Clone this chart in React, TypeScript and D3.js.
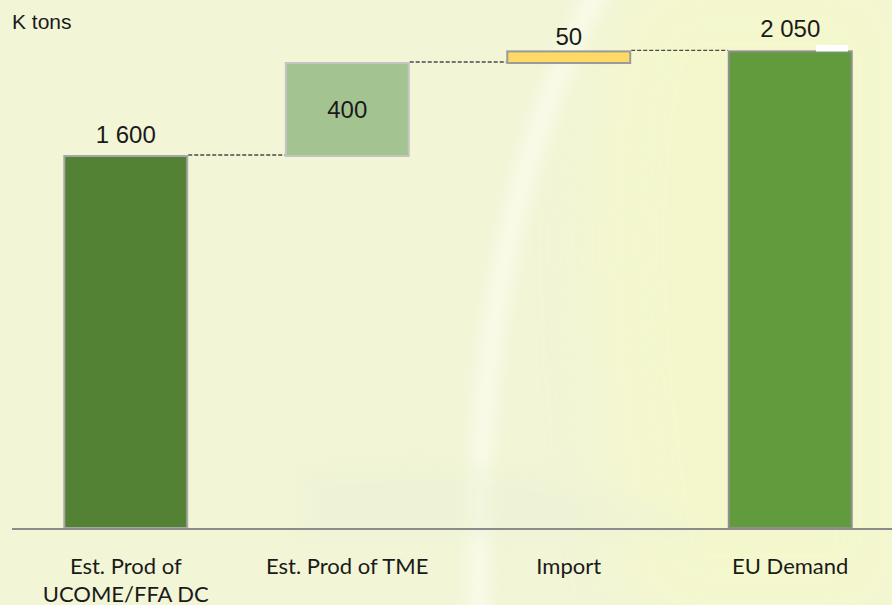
import React from "react";
import * as d3 from "d3";

const categories = ["Est. Prod of\nUCOME/FFA DC", "Est. Prod of TME", "Import", "EU Demand"];
const values = [1600, 400, 50, 2050];
const kinds = ["total", "delta", "delta", "total"];
const unitLabel = "K tons";

const W = 892;
const H = 605;
const fills = ["#548235", "#a3c490", "#ffd966", "#629a3e"];
const strokes = ["#a6a6a6", "#c4c4c4", "#9a9a9a", "#8f8f8f"];
// label placement: "above" gap in px or "inside"
const labelPlace = [{ mode: "above", gap: 13 }, { mode: "inside", gap: 0 }, { mode: "above", gap: 6 }, { mode: "above", gap: 14 }];

const fmt = d3.formatLocale({ decimal: ",", thousands: " ", grouping: [3], currency: ["", ""] }).format(",");

export default function App() {
  const x = d3.scaleBand<string>().domain(categories).range([20, 896]).paddingInner(0.445).paddingOuter(0.2);
  const y = d3.scaleLinear().domain([0, 2050]).range([528, 51.4]);

  let run = 0;
  const segs = values.map((v, i) => {
    let lo: number, hi: number;
    if (kinds[i] === "total") {
      lo = 0;
      hi = v;
      run = v;
    } else {
      lo = run;
      hi = run + v;
      run = hi;
    }
    return { cat: categories[i], v, lo, hi, i };
  });

  const bw = x.bandwidth();

  return (
    <div style={{ position: "fixed", left: 0, top: 0, width: W, height: H }}>
      <svg width={W} height={H} style={{ display: "block" }}>
        <defs>
          <filter id="blur1" x="-50%" y="-50%" width="200%" height="200%">
            <feGaussianBlur stdDeviation="8" />
          </filter>
          <filter id="blur2" x="-50%" y="-50%" width="200%" height="200%">
            <feGaussianBlur stdDeviation="30" />
          </filter>
        </defs>
        <rect x={0} y={0} width={W} height={H} fill="#f2f5d6" />
        <path d="M 640 -20 Q 560 180 640 620 L 900 620 L 900 -20 Z" fill="#f6f9c6" opacity={0.6} filter="url(#blur2)" />
        <path d="M 605 -20 Q 465 220 480 640" fill="none" stroke="#f9fbea" strokeWidth={20} filter="url(#blur1)" />
        <path d="M 300 470 Q 550 440 700 530 L 700 540 L 300 540 Z" fill="#eef3d6" opacity={0.5} filter="url(#blur1)" />

        <text x={12} y={29} fontFamily="'Liberation Sans', Arial, sans-serif" fontSize={21} fill="#1a1a1a">
          {unitLabel}
        </text>

        {segs.slice(0, -1).map((s, i) => {
          const next = segs[i + 1];
          const yy = y(s.hi) - 1;
          return (
            <line
              key={"c" + i}
              x1={(x(s.cat) as number) + bw + 1}
              x2={(x(next.cat) as number) - 1}
              y1={yy}
              y2={yy}
              stroke="#4a4a4a"
              strokeWidth={1.3}
              strokeDasharray="4 2"
            />
          );
        })}

        {segs.map((s) => (
          <rect
            key={"b" + s.i}
            x={x(s.cat) as number}
            y={y(s.hi)}
            width={bw}
            height={y(s.lo) - y(s.hi)}
            fill={fills[s.i]}
            stroke={strokes[s.i]}
            strokeWidth={2}
          />
        ))}

        <rect x={816} y={45} width={32} height={6.5} fill="#ffffff" />

        <line x1={12} x2={W} y1={y(0) + 1} y2={y(0) + 1} stroke="#8c8c8c" strokeWidth={2} />

        {segs.map((s) => {
          const cx = (x(s.cat) as number) + bw / 2;
          const p = labelPlace[s.i];
          const yy = p.mode === "inside" ? (y(s.hi) + y(s.lo)) / 2 + 8.5 : y(s.hi) - p.gap;
          return (
            <text
              key={"v" + s.i}
              x={cx}
              y={yy}
              textAnchor="middle"
              fontFamily="'Liberation Sans', Arial, sans-serif"
              fontSize={24}
              fill="#1a1a1a"
            >
              {fmt(s.v)}
            </text>
          );
        })}

        {categories.map((c, i) => {
          const cx = (x(c) as number) + bw / 2;
          const lines = c.split("\n");
          return (
            <text key={"k" + i} textAnchor="middle" fontFamily="Lato, sans-serif" fontSize={22} fill="#1a1a1a">
              {lines.map((ln, j) => (
                <tspan key={j} x={cx} y={574 + j * 28}>
                  {ln}
                </tspan>
              ))}
            </text>
          );
        })}
      </svg>
    </div>
  );
}
